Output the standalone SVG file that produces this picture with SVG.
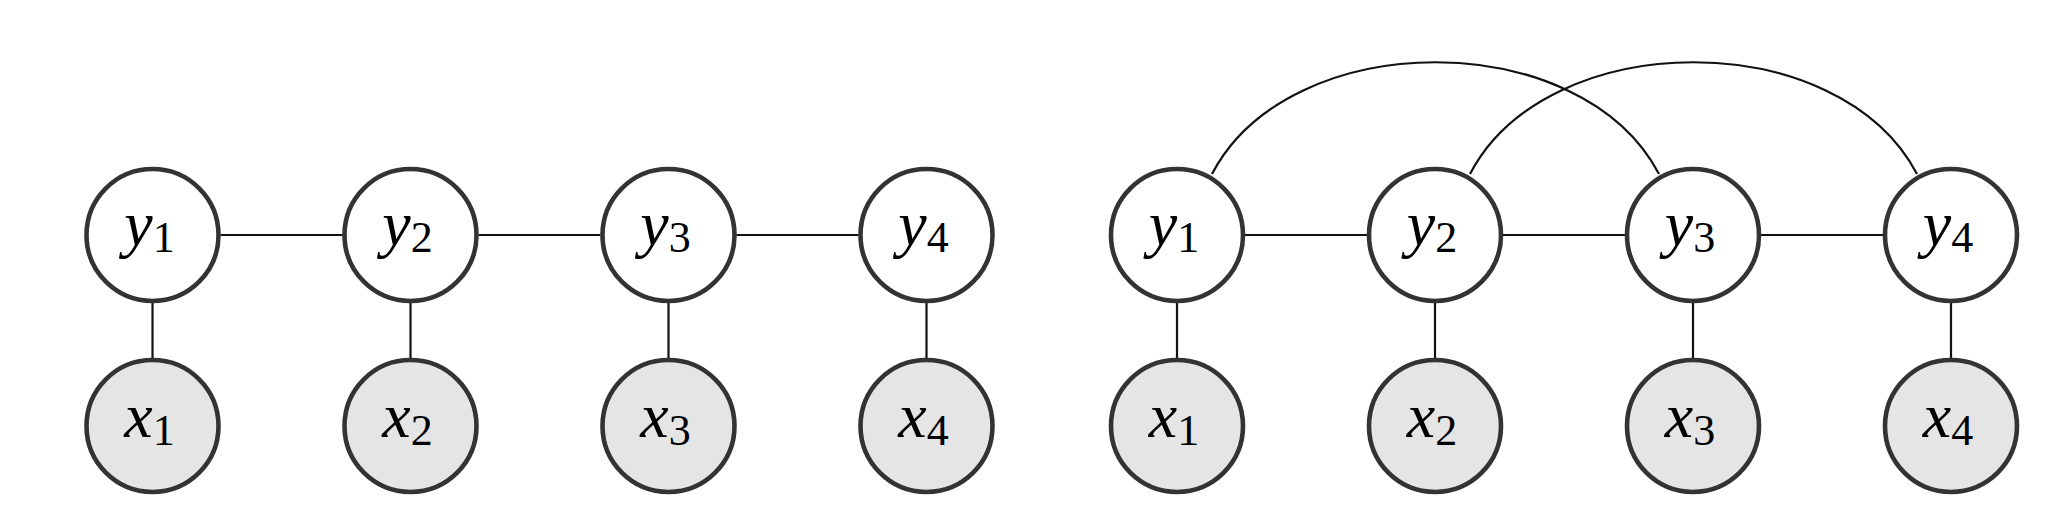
<svg xmlns="http://www.w3.org/2000/svg" width="2070" height="528" viewBox="0 0 2070 528">
<style>
.n{stroke:#333333;stroke-width:4.6;}
.h{fill:#ffffff;}
.o{fill:#e5e5e5;}
.e{stroke:#111111;stroke-width:2.2;fill:none;}
.t{font-family:"Liberation Serif","DejaVu Serif",serif;font-size:64px;fill:#000;text-anchor:middle;}
.i{font-style:italic;}
.s{font-size:44px;font-style:normal;}
</style>
<rect width="2070" height="528" fill="#ffffff"/>
<g id="connectors">
<line class="e" x1="220.5" y1="235" x2="342.5" y2="235"/>
<line class="e" x1="478.5" y1="235" x2="600.5" y2="235"/>
<line class="e" x1="736.5" y1="235" x2="858.5" y2="235"/>
<line class="e" x1="152.5" y1="303" x2="152.5" y2="358"/>
<line class="e" x1="410.5" y1="303" x2="410.5" y2="358"/>
<line class="e" x1="668.5" y1="303" x2="668.5" y2="358"/>
<line class="e" x1="926.5" y1="303" x2="926.5" y2="358"/>
<line class="e" x1="1245" y1="235" x2="1367" y2="235"/>
<line class="e" x1="1503" y1="235" x2="1625" y2="235"/>
<line class="e" x1="1761" y1="235" x2="1883" y2="235"/>
<line class="e" x1="1177" y1="303" x2="1177" y2="358"/>
<line class="e" x1="1435" y1="303" x2="1435" y2="358"/>
<line class="e" x1="1693" y1="303" x2="1693" y2="358"/>
<line class="e" x1="1951" y1="303" x2="1951" y2="358"/>
<path class="e" d="M1212,174 C1290,25 1581,25 1659,174"/>
<path class="e" d="M1470,174 C1548,25 1839,25 1917,174"/>
</g>
<g id="L_y1"><circle class="n h" cx="152.5" cy="235" r="66"/><text class="t" x="149.5" y="245"><tspan class="i">y</tspan><tspan class="s" dy="7">1</tspan></text></g>
<g id="L_y2"><circle class="n h" cx="410.5" cy="235" r="66"/><text class="t" x="407.5" y="245"><tspan class="i">y</tspan><tspan class="s" dy="7">2</tspan></text></g>
<g id="L_y3"><circle class="n h" cx="668.5" cy="235" r="66"/><text class="t" x="665.5" y="245"><tspan class="i">y</tspan><tspan class="s" dy="7">3</tspan></text></g>
<g id="L_y4"><circle class="n h" cx="926.5" cy="235" r="66"/><text class="t" x="923.5" y="245"><tspan class="i">y</tspan><tspan class="s" dy="7">4</tspan></text></g>
<g id="L_x1"><circle class="n o" cx="152.5" cy="426" r="66"/><text class="t" x="149.5" y="437"><tspan class="i">x</tspan><tspan class="s" dy="8">1</tspan></text></g>
<g id="L_x2"><circle class="n o" cx="410.5" cy="426" r="66"/><text class="t" x="407.5" y="437"><tspan class="i">x</tspan><tspan class="s" dy="8">2</tspan></text></g>
<g id="L_x3"><circle class="n o" cx="668.5" cy="426" r="66"/><text class="t" x="665.5" y="437"><tspan class="i">x</tspan><tspan class="s" dy="8">3</tspan></text></g>
<g id="L_x4"><circle class="n o" cx="926.5" cy="426" r="66"/><text class="t" x="923.5" y="437"><tspan class="i">x</tspan><tspan class="s" dy="8">4</tspan></text></g>
<g id="R_y1"><circle class="n h" cx="1177" cy="235" r="66"/><text class="t" x="1174" y="245"><tspan class="i">y</tspan><tspan class="s" dy="7">1</tspan></text></g>
<g id="R_y2"><circle class="n h" cx="1435" cy="235" r="66"/><text class="t" x="1432" y="245"><tspan class="i">y</tspan><tspan class="s" dy="7">2</tspan></text></g>
<g id="R_y3"><circle class="n h" cx="1693" cy="235" r="66"/><text class="t" x="1690" y="245"><tspan class="i">y</tspan><tspan class="s" dy="7">3</tspan></text></g>
<g id="R_y4"><circle class="n h" cx="1951" cy="235" r="66"/><text class="t" x="1948" y="245"><tspan class="i">y</tspan><tspan class="s" dy="7">4</tspan></text></g>
<g id="R_x1"><circle class="n o" cx="1177" cy="426" r="66"/><text class="t" x="1174" y="437"><tspan class="i">x</tspan><tspan class="s" dy="8">1</tspan></text></g>
<g id="R_x2"><circle class="n o" cx="1435" cy="426" r="66"/><text class="t" x="1432" y="437"><tspan class="i">x</tspan><tspan class="s" dy="8">2</tspan></text></g>
<g id="R_x3"><circle class="n o" cx="1693" cy="426" r="66"/><text class="t" x="1690" y="437"><tspan class="i">x</tspan><tspan class="s" dy="8">3</tspan></text></g>
<g id="R_x4"><circle class="n o" cx="1951" cy="426" r="66"/><text class="t" x="1948" y="437"><tspan class="i">x</tspan><tspan class="s" dy="8">4</tspan></text></g>
</svg>
